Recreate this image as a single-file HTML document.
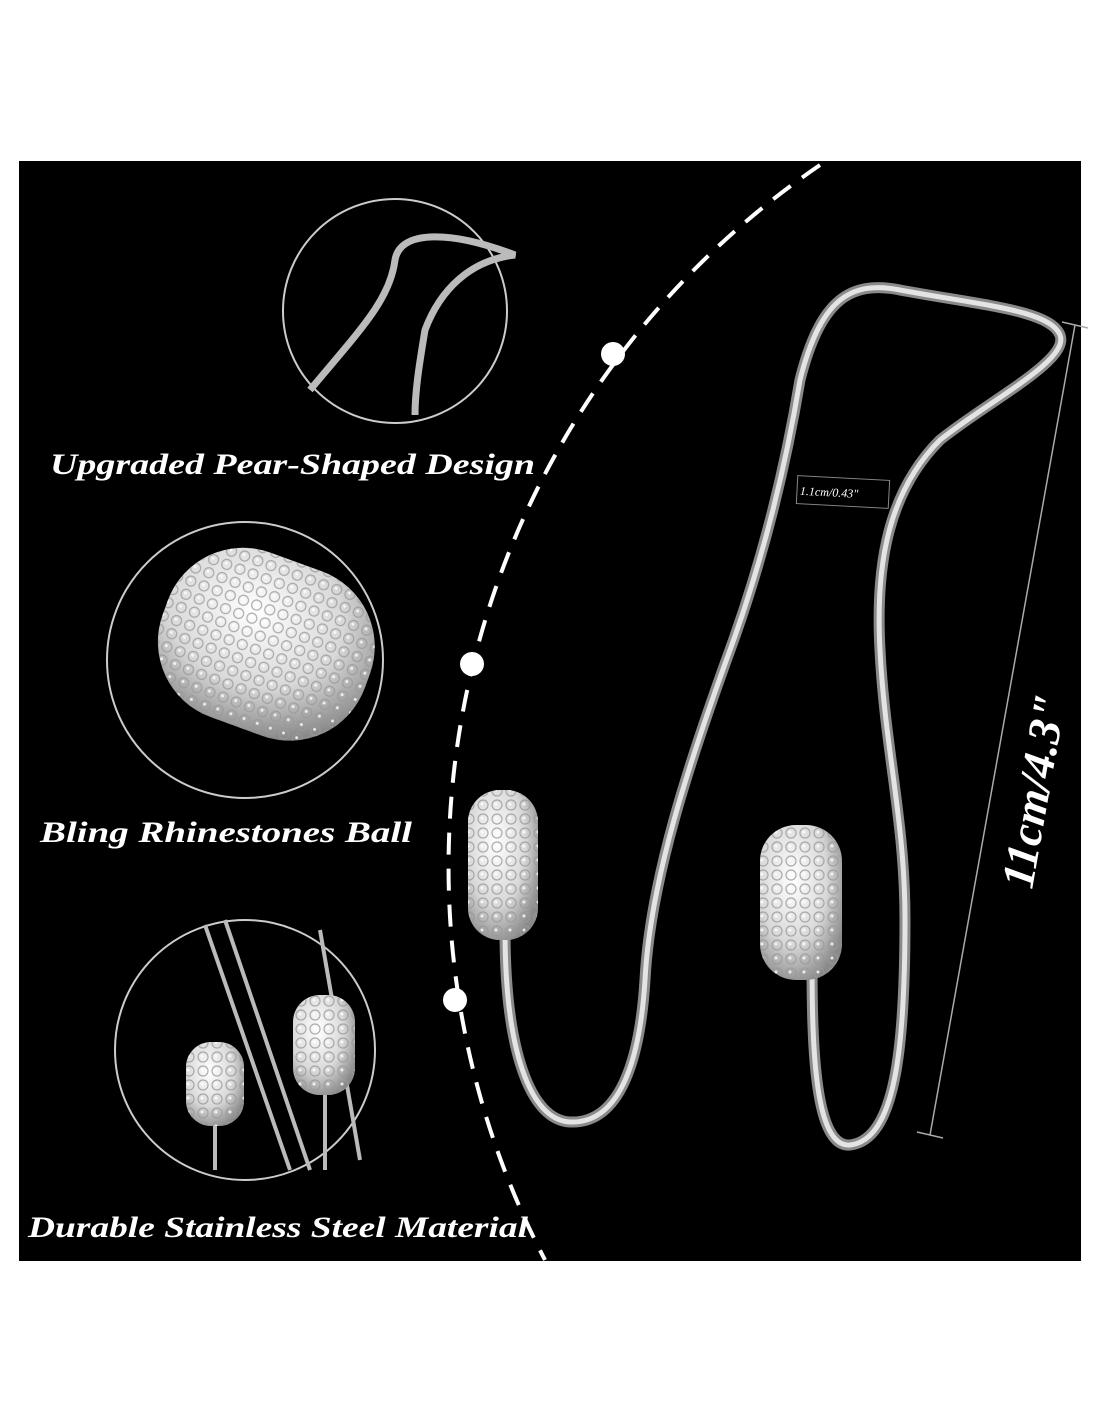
<!DOCTYPE html>
<html><head><meta charset="utf-8"><style>
html,body{margin:0;padding:0;background:#fff}
svg{display:block}
</style></head><body>
<svg width="1100" height="1422" viewBox="0 0 1100 1422" xmlns="http://www.w3.org/2000/svg">
<defs>
<radialGradient id="ball" cx="40%" cy="35%" r="70%">
<stop offset="0" stop-color="#ffffff"/><stop offset="0.6" stop-color="#d8d8d8"/><stop offset="1" stop-color="#8a8a8a"/>
</radialGradient>
<pattern id="gems" width="14" height="14" patternUnits="userSpaceOnUse">
<circle cx="7" cy="7" r="5" fill="none" stroke="#999" stroke-width="1.2"/>
<circle cx="6" cy="6" r="1.5" fill="#fff"/>
</pattern>
</defs>
<rect x="19" y="161" width="1062" height="1100" fill="#000"/>
<path d="M820,165 A849,849 0 0,0 545,1260" fill="none" stroke="#fff" stroke-width="4" stroke-dasharray="22,14"/>
<circle cx="613" cy="354" r="12" fill="#fff"/>
<circle cx="472" cy="664" r="12" fill="#fff"/>
<circle cx="455" cy="1000" r="12" fill="#fff"/>
<circle cx="395" cy="311" r="112" fill="#000" stroke="#ccc" stroke-width="2"/>
<path d="M310,390 C360,330 390,300 395,260 C400,230 450,230 515,255 C470,260 440,290 425,330 C420,360 415,390 415,415" fill="none" stroke="#bbb" stroke-width="7"/>
<circle cx="245" cy="660" r="138" fill="#000" stroke="#ccc" stroke-width="2"/>
<rect x="160" y="555" width="215" height="175" rx="80" transform="rotate(20 262 640)" fill="url(#ball)"/>
<rect x="160" y="555" width="215" height="175" rx="80" transform="rotate(20 262 640)" fill="url(#gems)" opacity="0.8"/>
<circle cx="245" cy="1050" r="130" fill="#000" stroke="#ccc" stroke-width="2"/>
<path d="M205,925 L290,1170 M225,920 L310,1170 M320,930 L360,1160" stroke="#bbb" stroke-width="4"/>
<line x1="215" y1="1110" x2="215" y2="1170" stroke="#bbb" stroke-width="4"/>
<line x1="325" y1="1090" x2="325" y2="1170" stroke="#bbb" stroke-width="4"/>
<rect x="186" y="1042" width="58" height="84" rx="25" fill="url(#ball)"/>
<rect x="186" y="1042" width="58" height="84" rx="25" fill="url(#gems)" opacity="0.8"/>
<rect x="293" y="995" width="62" height="100" rx="27" fill="url(#ball)"/>
<rect x="293" y="995" width="62" height="100" rx="27" fill="url(#gems)" opacity="0.8"/>
<g fill="#fff" font-family="Liberation Serif, serif" font-weight="bold" font-style="italic" font-size="30">
<text x="50" y="474" textLength="485" lengthAdjust="spacingAndGlyphs">Upgraded Pear-Shaped Design</text>
<text x="40" y="842" textLength="372" lengthAdjust="spacingAndGlyphs">Bling Rhinestones Ball</text>
<text x="28" y="1237" textLength="500" lengthAdjust="spacingAndGlyphs">Durable Stainless Steel Material</text>
</g>
<g fill="none" stroke-linecap="round" stroke-linejoin="round">
<path d="M505,930 C505,1050 530,1120 570,1122 C620,1124 640,1060 645,980 C650,880 690,760 730,650 C770,540 790,440 800,380 C820,300 850,280 900,290 C980,305 1050,310 1060,335 C1070,360 990,400 940,440 C890,490 875,560 880,650 C885,750 905,820 905,920 C905,1050 895,1140 850,1145 C815,1148 812,1050 812,960" stroke="#8a8a8a" stroke-width="11"/>
<path d="M505,930 C505,1050 530,1120 570,1122 C620,1124 640,1060 645,980 C650,880 690,760 730,650 C770,540 790,440 800,380 C820,300 850,280 900,290 C980,305 1050,310 1060,335 C1070,360 990,400 940,440 C890,490 875,560 880,650 C885,750 905,820 905,920 C905,1050 895,1140 850,1145 C815,1148 812,1050 812,960" stroke="#e4e4e4" stroke-width="5"/>
</g>
<rect x="468" y="790" width="70" height="150" rx="32" fill="url(#ball)"/>
<rect x="468" y="790" width="70" height="150" rx="32" fill="url(#gems)" opacity="0.8"/>
<rect x="760" y="825" width="82" height="155" rx="36" fill="url(#ball)"/>
<rect x="760" y="825" width="82" height="155" rx="36" fill="url(#gems)" opacity="0.8"/>
<line x1="1075" y1="325" x2="930" y2="1135" stroke="#aaa" stroke-width="1.5"/>
<line x1="1062" y1="322" x2="1088" y2="328" stroke="#aaa" stroke-width="1.5"/>
<line x1="917" y1="1132" x2="943" y2="1138" stroke="#aaa" stroke-width="1.5"/>
<text transform="translate(1032,890) rotate(-80)" fill="#fff" font-family="Liberation Serif, serif" font-weight="bold" font-style="italic" font-size="46">11cm/4.3"</text>
<rect x="797" y="478" width="92" height="28" fill="#000" stroke="#888" stroke-width="1" transform="rotate(3 843 492)"/>
<text x="800" y="497" fill="#fff" font-family="Liberation Serif, serif" font-style="italic" font-size="12" transform="rotate(3 843 492)">1.1cm/0.43"</text>
</svg>
</body></html>
